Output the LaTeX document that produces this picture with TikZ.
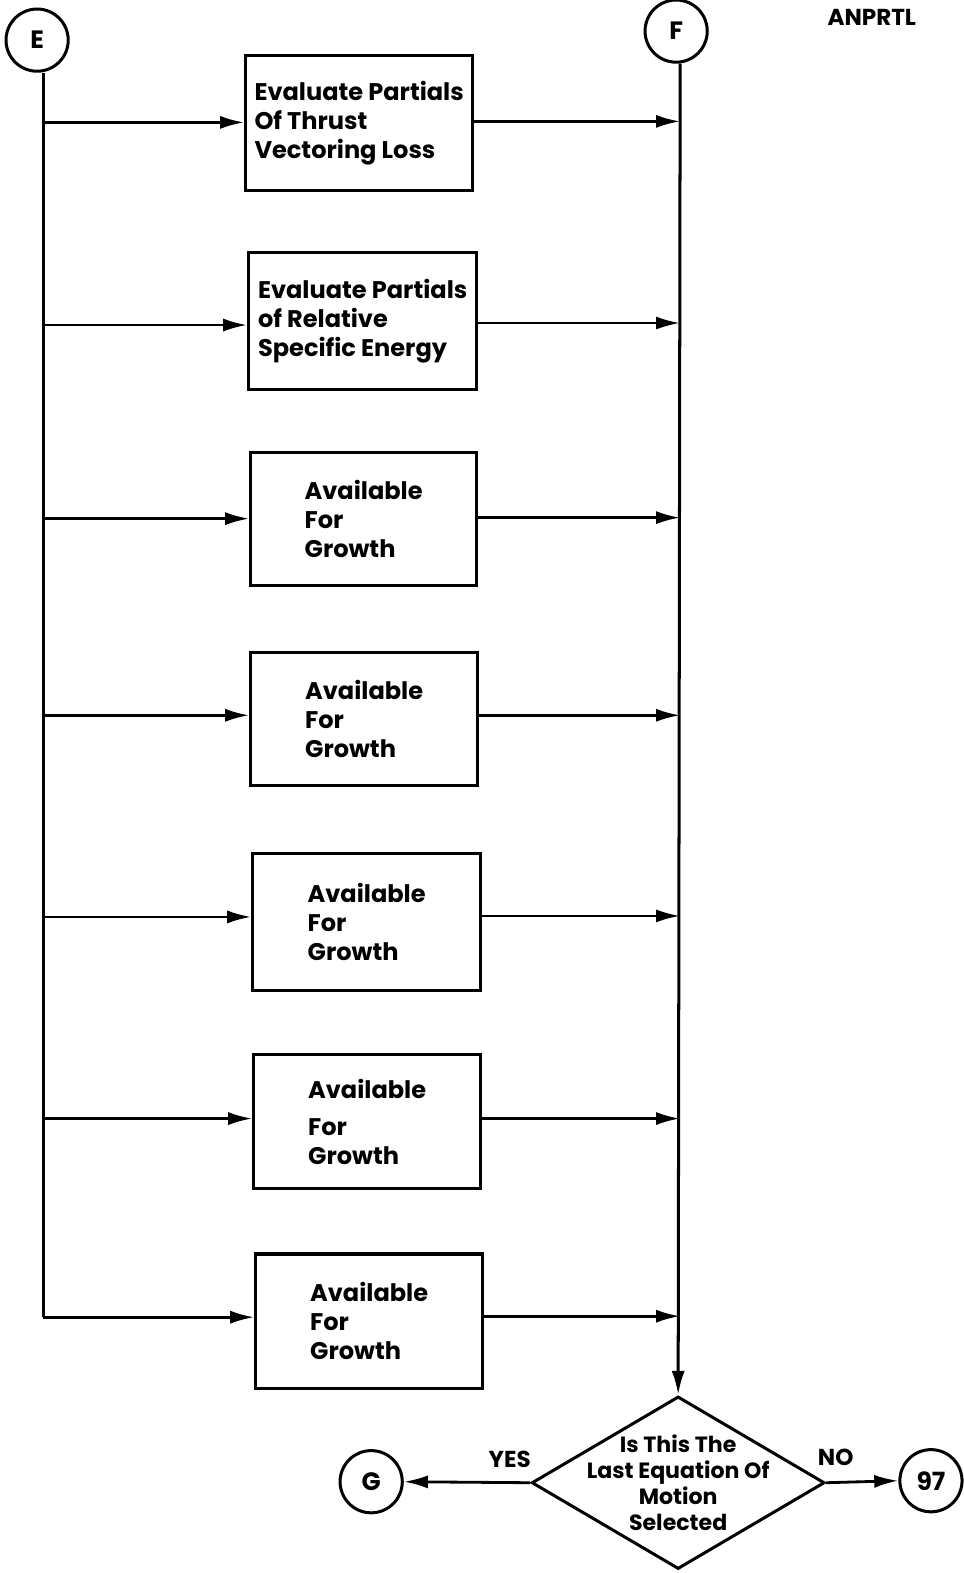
\documentclass[tikz,border=0pt]{standalone}
\usepackage{fontspec}
\setmainfont{Poppins}
\usetikzlibrary{shapes.geometric,arrows.meta}
\begin{document}
\begin{tikzpicture}[x=1pt,y=-1pt,
  ln/.style={line width=3pt},
  arr/.style={line width=2.8pt,-{Latex[length=24pt,width=13pt]}},
  stepbox/.style={draw,line width=3pt,minimum width=226pt,minimum height=134pt,inner sep=0pt,align=left,
     font=\fontsize{24}{29}\selectfont\bfseries},
  conn/.style={draw,circle,line width=3pt,minimum size=62pt,inner sep=0pt,font=\fontsize{25}{28}\selectfont\bfseries},
  lbl/.style={font=\fontsize{23}{26}\selectfont\bfseries},
  decide/.style={draw,diamond,line width=3pt,minimum width=292pt,minimum height=172pt,inner sep=0pt,
     label={[align=center,font=\fontsize{22}{26}\selectfont\bfseries]center:{Is This The\\Last Equation Of\\Motion\\Selected}}}]
\useasboundingbox (0,0) rectangle (960,1568);
% connectors
\node[conn] (E) at (37,40) {E};
\node[conn] (F) at (674,31) {F};
\node[lbl] (title) at (869,17) {ANPRTL};
% boxes
\node[stepbox,minimum width=226pt,minimum height=135pt] (b1) at (358,122.5) {Evaluate Partials\\Of Thrust\\Vectoring Loss};
\node[stepbox,minimum width=227pt,minimum height=136pt] (b2) at (361.5,320) {Evaluate Partials\\of Relative\\Specific Energy};
\node[stepbox,minimum width=225pt,minimum height=133pt] (b3) at (362.5,517.5) {Available\\For\\Growth};
\node[stepbox,minimum width=226pt,minimum height=133pt] (b4) at (363,716.5) {Available\\For\\Growth};
\node[stepbox,minimum width=227pt,minimum height=136pt] (b5) at (365.5,919) {Available\\For\\Growth};
\node[stepbox,minimum width=226pt,minimum height=134pt] (b6) at (366,1118) {Available\\[8pt]For\\Growth};
\node[stepbox,minimum width=226pt,minimum height=134pt] (b7) at (368,1317) {Available\\For\\Growth};
% decision
\node[decide] (D) at (676,1478) {};
\node[conn] (G) at (370,1477) {G};
\node[conn] (N97) at (928,1476) {97};
\node[lbl] (yes) at (508,1455) {YES};
\node[lbl] (no) at (833,1453) {NO};
% bus coordinates
\coordinate (l1) at (43,122);
\coordinate (l2) at (43,324);
\coordinate (l3) at (43,517);
\coordinate (l4) at (43,713);
\coordinate (l5) at (43,914);
\coordinate (l6) at (43,1115);
\coordinate (l7) at (43,1313);
\coordinate (r1) at (678,121);
\coordinate (r2) at (678,322);
\coordinate (r3) at (678,516);
\coordinate (r4) at (678,713);
\coordinate (r5) at (678,913);
\coordinate (r6) at (678,1115);
\coordinate (r7) at (678,1312);
% buses
\draw[ln] (l1 |- E.south) -- (l7);
\draw[arr,line width=3pt] (r1 |- F.south) -- (D.north);
% branch arrows
\foreach \i in {1,...,7}{
  \draw[arr] (l\i) -- (l\i -| b\i.west);
  \draw[arr] (r\i -| b\i.east) -- (r\i);
}
\draw[arr] (D.west) -- (G.east);
\draw[arr] (D.east) -- (N97.west);
\end{tikzpicture}
\end{document}
